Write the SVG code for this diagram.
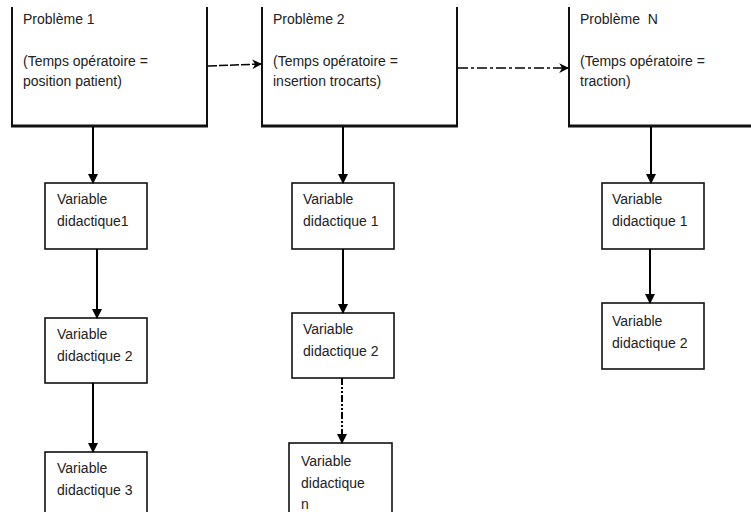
<svg xmlns="http://www.w3.org/2000/svg" width="751" height="512" viewBox="0 0 751 512">
<defs>
<marker id="ah" viewBox="0 0 10 10" refX="9" refY="5" markerWidth="5" markerHeight="5" orient="auto" markerUnits="strokeWidth">
<path d="M0,0 L10,5 L0,10 Z" fill="#000"/>
</marker>
<marker id="ahh" viewBox="0 0 10 10" refX="9" refY="5" markerWidth="6.5" markerHeight="6.5" orient="auto" markerUnits="strokeWidth">
<path d="M0,0 L10,5 L0,10 L3,5 Z" fill="#000"/>
</marker>
<style>
text{font-family:"Liberation Sans",Arial,sans-serif;font-size:14px;fill:#222}
.ps{fill:none;stroke:#111;stroke-width:2}
.pbot{fill:none;stroke:#111;stroke-width:3}
.vb{fill:#fff;stroke:#111;stroke-width:1.6}
.c{fill:none;stroke:#000;stroke-width:2;marker-end:url(#ah)}
.ch{fill:none;stroke:#000;stroke-width:1.5;marker-end:url(#ahh)}
</style>
</defs>
<rect width="751" height="512" fill="#fff"/>

<g id="p1">
<path class="ps" d="M12,7 V126 M207,7 V126"/>
<path class="pbot" d="M11,126 H208"/>
<text x="23" y="24">Problème 1</text>
<text x="23" y="66">(Temps opératoire =</text>
<text x="23" y="86">position patient)</text>
</g>
<g id="p2">
<path class="ps" d="M262,7 V126 M457,7 V126"/>
<path class="pbot" d="M261,126 H458"/>
<text x="273" y="24">Problème 2</text>
<text x="273" y="66">(Temps opératoire =</text>
<text x="273" y="86">insertion trocarts)</text>
</g>
<g id="pn">
<path class="ps" d="M569,7 V126"/>
<path class="pbot" d="M568,126 H751"/>
<text x="580" y="24" xml:space="preserve">Problème  N</text>
<text x="580" y="66">(Temps opératoire =</text>
<text x="580" y="86">traction)</text>
</g>

<g id="v11"><rect class="vb" x="45" y="183" width="102" height="66"/><text x="57" y="204">Variable</text><text x="57" y="226">didactique1</text></g>
<g id="v12"><rect class="vb" x="45" y="318" width="102" height="65"/><text x="57" y="339">Variable</text><text x="57" y="361">didactique 2</text></g>
<g id="v13"><rect class="vb" x="45" y="452" width="102" height="70"/><text x="57" y="473">Variable</text><text x="57" y="495">didactique 3</text></g>

<g id="v21"><rect class="vb" x="292" y="183" width="102" height="66"/><text x="303" y="204">Variable</text><text x="303" y="226">didactique 1</text></g>
<g id="v22"><rect class="vb" x="292" y="313" width="102" height="65"/><text x="303" y="334">Variable</text><text x="303" y="356">didactique 2</text></g>
<g id="v23"><rect class="vb" x="289" y="443" width="103" height="80"/><text x="301" y="466">Variable</text><text x="301" y="488">didactique</text><text x="301" y="509">n</text></g>

<g id="v31"><rect class="vb" x="602" y="183" width="102" height="66"/><text x="612" y="204">Variable</text><text x="612" y="226">didactique 1</text></g>
<g id="v32"><rect class="vb" x="602" y="303" width="102" height="66"/><text x="612" y="326">Variable</text><text x="612" y="348">didactique 2</text></g>

<g id="connectors">
<path class="ch" d="M208,66 L261,64" stroke-dasharray="9,2"/>
<path class="ch" d="M458,68 L568,68" stroke-dasharray="10,3,3,3"/>
<path class="c" d="M93,127 V183"/>
<path class="c" d="M97,249 V318"/>
<path class="c" d="M93,383 V452"/>
<path class="c" d="M343,127 V183"/>
<path class="c" d="M343,249 V313"/>
<path class="c" d="M342,378 V443" stroke-dasharray="7,2,2,2,2,2"/>
<path class="c" d="M651,127 V183"/>
<path class="c" d="M650,249 V303"/>
</g>
</svg>
